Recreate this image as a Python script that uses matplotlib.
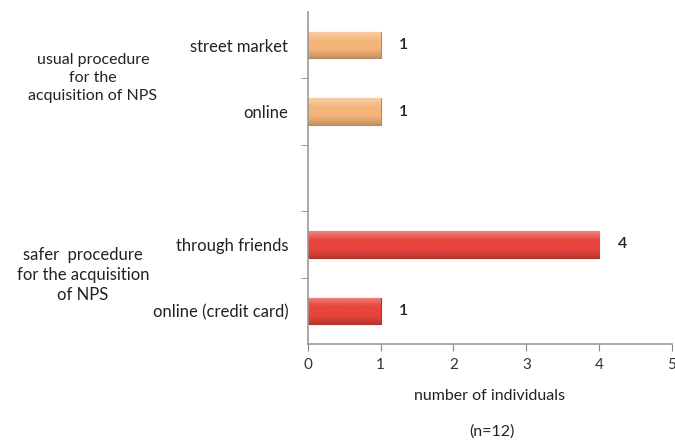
import matplotlib
matplotlib.use("Agg")
import matplotlib.pyplot as plt
import numpy as np
from matplotlib.colors import LinearSegmentedColormap

categories = ["street market", "online", "", "through friends", "online (credit card)"]
values = [1, 1, None, 4, 1]
colors = ["#F5B57A", "#F5B57A", None, "#E8453C", "#E8453C"]
group_labels = ["usual procedure\nfor the\nacquisition of NPS",
                "safer  procedure\nfor the acquisition\nof NPS"]
xticks = [0, 1, 2, 3, 4, 5]

plt.rcParams['font.family'] = ['Lato', 'DejaVu Sans']

fig = plt.figure(figsize=(6.75, 4.4), dpi=100)
ax = fig.add_axes([0.456, 0.218, 0.5396, 0.755])

n = len(categories)
ypos = np.arange(n)
h = 0.4

def shade(c, f):
    c = np.array(matplotlib.colors.to_rgb(c))
    if f > 0:
        return tuple(c + (1 - c) * f)
    return tuple(c * (1 + f))

for y, v, c in zip(ypos, values, colors):
    if v is None:
        continue
    bar = ax.barh(y, v, height=h, color=c, edgecolor=shade(c, -0.25), linewidth=0.8, zorder=2)[0]
    cmap = LinearSegmentedColormap.from_list("g", [shade(c, 0.35), c, c, shade(c, -0.2)])
    grad = np.linspace(0, 1, 100).reshape(-1, 1)
    im = ax.imshow(grad, cmap=cmap, aspect='auto', extent=[0, v, y + h / 2, y - h / 2],
                   zorder=2.5, interpolation='bicubic')
    im.set_clip_path(bar)
    ax.text(v + 0.25, y, f"{v}", va='center', ha='left', fontsize=11.5, color='#222222',
            fontweight='semibold')

ax.set_xlim(0, 5)
ax.set_ylim(n - 0.5, -0.5)
ax.set_xticks(xticks)
ax.set_xticklabels([str(t) for t in xticks], fontsize=11, color='#333333')
ax.set_yticks(ypos)
ax.set_yticklabels(categories, fontsize=12, color='#222222')
ax.tick_params(axis='y', length=0, pad=14)
ax.set_yticks(np.arange(0.5, n - 0.5, 1), minor=True)
ax.tick_params(axis='y', which='minor', length=5, color='#888888', direction='out')
ax.tick_params(axis='x', length=5, color='#888888', direction='out', pad=5)
for s in ['top', 'right']:
    ax.spines[s].set_visible(False)
for s in ['left', 'bottom']:
    ax.spines[s].set_color('#999999')
    ax.spines[s].set_linewidth(1.2)

ax.set_xlabel("number of individuals", fontsize=11.5, color='#222222', labelpad=12)
fig.text(0.729, 1 - 432 / 440, "(n=12)", ha='center', va='center', fontsize=11.5,
         color='#222222')

fig.text(93 / 675, 1 - 78 / 440, group_labels[0], ha='center', va='center', fontsize=11.5,
         color='#222222', linespacing=1.35)
fig.text(83 / 675, 1 - 275 / 440, group_labels[1], ha='center', va='center', fontsize=12,
         color='#222222', linespacing=1.3)

fig.savefig("out.png", dpi=100)
